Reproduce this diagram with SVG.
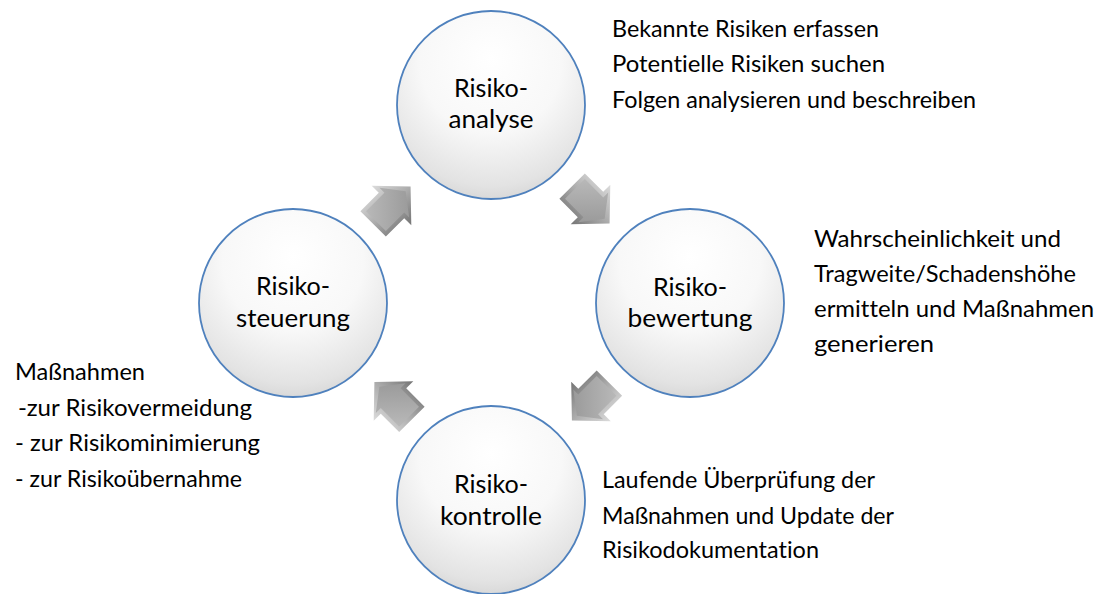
<svg xmlns="http://www.w3.org/2000/svg" width="1113" height="594" viewBox="0 0 1113 594">
<style>
.circ{fill:url(#cg);stroke:#4f81bd;stroke-width:1.8}
.ct{font-family:Lato,"Open Sans",sans-serif;font-size:24.5px;fill:#000;text-anchor:middle;font-variant-ligatures:none}
.st{font-family:Lato,"Open Sans",sans-serif;font-size:22.5px;fill:#000;font-variant-ligatures:none}
.ao{fill:url(#ag)}
.ai{fill:url(#ag2)}
</style>
<defs>
<radialGradient id="cg" cx="50%" cy="30%" r="75%" fx="50%" fy="25%">
<stop offset="0" stop-color="#ffffff"/>
<stop offset="0.5" stop-color="#f8f8f8"/>
<stop offset="0.85" stop-color="#e3e3e3"/>
<stop offset="1" stop-color="#d2d2d2"/>
</radialGradient>
<linearGradient id="ag" x1="0" y1="0" x2="0" y2="1">
<stop offset="0" stop-color="#dcdcdc"/>
<stop offset="0.5" stop-color="#acacac"/>
<stop offset="1" stop-color="#747474"/>
</linearGradient>
<linearGradient id="ag2" x1="0" y1="0" x2="1" y2="1">
<stop offset="0" stop-color="#bcbcbc"/>
<stop offset="1" stop-color="#939393"/>
</linearGradient>
<g id="arrow">
<polygon class="ao" points="-26,-18 0,-18 0,-28 27,0 0,28 0,18 -26,18"/>
<polygon class="ai" points="-22,-14 4,-14 4,-21 20,0 4,21 4,14 -22,14"/>
</g>
</defs>
<g id="connectors">
<use href="#arrow" transform="translate(590.5,204.5) rotate(45)"/>
<use href="#arrow" transform="translate(591,401.5) rotate(135)"/>
<use href="#arrow" transform="translate(393.5,401) rotate(-135)"/>
<use href="#arrow" transform="translate(391.5,205.5) rotate(-45)"/>
</g>
<g id="node-analyse">
<circle class="circ" cx="491" cy="105" r="94"/>
<text class="ct" x="491" y="97" textLength="74" lengthAdjust="spacingAndGlyphs">Risiko-</text>
<text class="ct" x="491" y="128" textLength="85" lengthAdjust="spacingAndGlyphs">analyse</text>
</g>
<g id="node-bewertung">
<circle class="circ" cx="690" cy="303" r="94"/>
<text class="ct" x="690" y="296" textLength="74" lengthAdjust="spacingAndGlyphs">Risiko-</text>
<text class="ct" x="690" y="327" textLength="125" lengthAdjust="spacingAndGlyphs">bewertung</text>
</g>
<g id="node-kontrolle">
<circle class="circ" cx="491" cy="500" r="94"/>
<text class="ct" x="491" y="493" textLength="74" lengthAdjust="spacingAndGlyphs">Risiko-</text>
<text class="ct" x="491" y="525" textLength="102" lengthAdjust="spacingAndGlyphs">kontrolle</text>
</g>
<g id="node-steuerung">
<circle class="circ" cx="293" cy="303" r="94"/>
<text class="ct" x="293" y="295" textLength="74" lengthAdjust="spacingAndGlyphs">Risiko-</text>
<text class="ct" x="293" y="327" textLength="114" lengthAdjust="spacingAndGlyphs">steuerung</text>
</g>
<g id="text-analyse">
<text class="st" x="612" y="37" textLength="267" lengthAdjust="spacingAndGlyphs">Bekannte Risiken erfassen</text>
<text class="st" x="612" y="72" textLength="273" lengthAdjust="spacingAndGlyphs">Potentielle Risiken suchen</text>
<text class="st" x="612" y="108" textLength="364" lengthAdjust="spacingAndGlyphs">Folgen analysieren und beschreiben</text>
</g>
<g id="text-bewertung">
<text class="st" x="814" y="247" textLength="247" lengthAdjust="spacingAndGlyphs">Wahrscheinlichkeit und</text>
<text class="st" x="814" y="282" textLength="262" lengthAdjust="spacingAndGlyphs">Tragweite/Schadenshöhe</text>
<text class="st" x="814" y="317" textLength="280" lengthAdjust="spacingAndGlyphs">ermitteln und Maßnahmen</text>
<text class="st" x="814" y="352" textLength="120" lengthAdjust="spacingAndGlyphs">generieren</text>
</g>
<g id="text-kontrolle">
<text class="st" x="602" y="488" textLength="273" lengthAdjust="spacingAndGlyphs">Laufende Überprüfung der</text>
<text class="st" x="602" y="524" textLength="292" lengthAdjust="spacingAndGlyphs">Maßnahmen und Update der</text>
<text class="st" x="602" y="558" textLength="217" lengthAdjust="spacingAndGlyphs">Risikodokumentation</text>
</g>
<g id="text-steuerung">
<text class="st" x="15" y="380" textLength="130" lengthAdjust="spacingAndGlyphs">Maßnahmen</text>
<text class="st" x="18" y="416" textLength="234" lengthAdjust="spacingAndGlyphs">-zur Risikovermeidung</text>
<text class="st" x="15" y="451" textLength="245" lengthAdjust="spacingAndGlyphs">- zur Risikominimierung</text>
<text class="st" x="15" y="487" textLength="227" lengthAdjust="spacingAndGlyphs">- zur Risikoübernahme</text>
</g>
</svg>
